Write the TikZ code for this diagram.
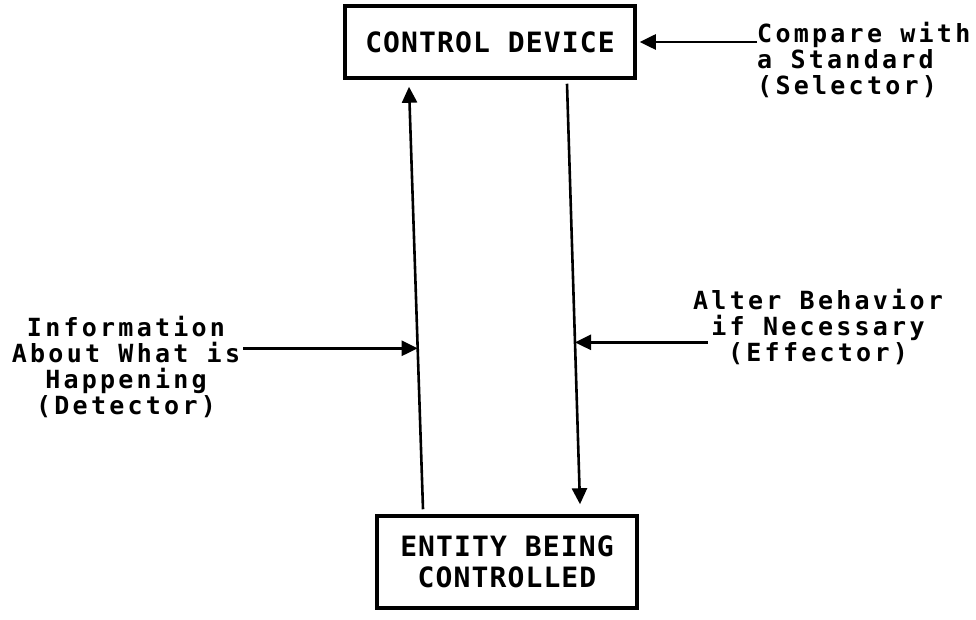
\documentclass[tikz,border=0pt]{standalone}
\usepackage{fontspec}
\newfontfamily\boxfont{DejaVu Sans Mono}[LetterSpace=4]
\newfontfamily\lblfont{DejaVu Sans Mono}[LetterSpace=13]
\usetikzlibrary{arrows.meta,calc}
\begin{document}
\begin{tikzpicture}[x=1pt,y=-1pt,
  boxnode/.style={draw,line width=3.5pt,inner sep=0pt,font=\boxfont\bfseries\fontsize{28}{32}\selectfont,align=center},
  label/.style={inner sep=0pt,font=\lblfont\bfseries\fontsize{25}{26}\selectfont},
  flow/.style={line width=2.6pt,-{Triangle[length=16pt,width=15pt]}}]
\useasboundingbox (0,0) rectangle (976,620);

% the two blocks of the loop
\node[boxnode,minimum width=290pt,minimum height=72pt] (ctrl) at (490,42) {CONTROL DEVICE};
\node[boxnode,minimum width=260pt,minimum height=92pt] (entity) at (507,562) {ENTITY BEING\\[-1pt]CONTROLLED};

% feedback (up) and action (down) lines
\coordinate (upS) at ([xshift=-84pt,yshift=5pt]entity.north);
\coordinate (upE) at ([xshift=-81pt,yshift=-7pt]ctrl.south);
\coordinate (dnS) at ([xshift=77pt,yshift=-4pt]ctrl.south);
\coordinate (dnE) at ([xshift=73pt,yshift=10pt]entity.north);
\draw[flow] (upS) -- (upE);
\draw[flow] (dnS) -- (dnE);

% side labels
\node[label,align=left,anchor=west] (cmp) at (757,60) {Compare with\\a Standard\\(Selector)};
\node[label,align=center] (info) at (126,367) {Information\\About What is\\Happening\\(Detector)};
\node[label,align=center] (eff) at (818,327) {Alter Behavior\\if Necessary\\(Effector)};

\coordinate (infoTip) at ($(upS)!0.381!(upE)$);
\coordinate (effTip) at ($(dnS)!0.615!(dnE)$);

\draw[flow] (cmp.west |- ctrl.east) -- ([xshift=3pt]ctrl.east);
\draw[flow] ([xshift=3pt]info.east |- infoTip) -- (infoTip);
\draw[flow] ([xshift=15pt]eff.west |- effTip) -- (effTip);
\end{tikzpicture}
\end{document}
